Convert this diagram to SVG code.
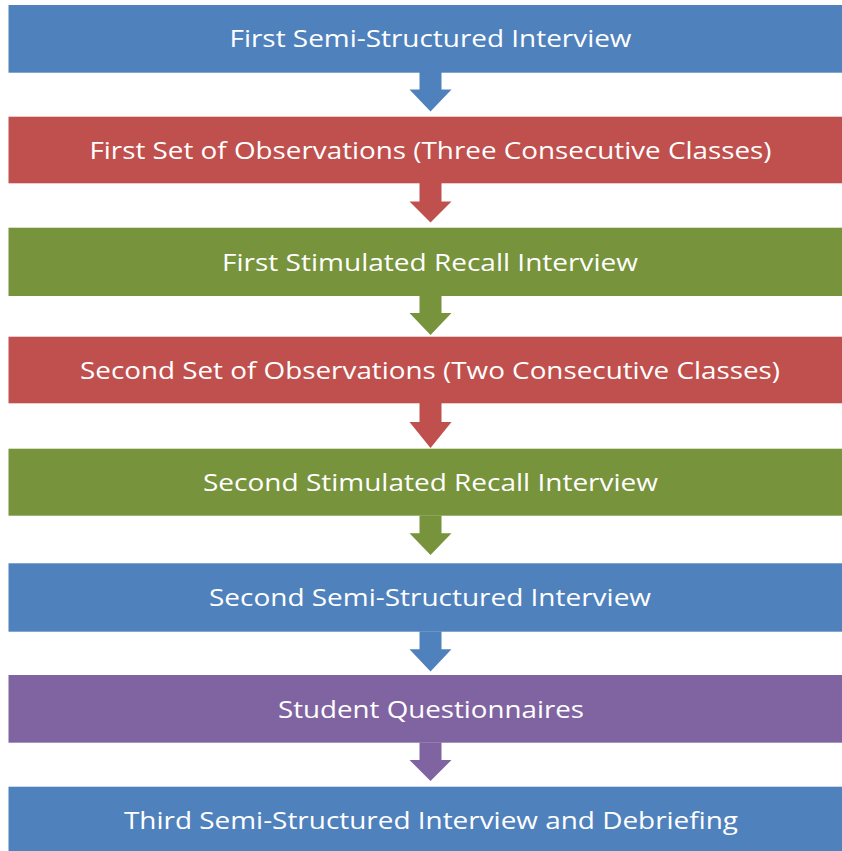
<svg xmlns="http://www.w3.org/2000/svg" width="842" height="851" viewBox="0 0 842 851">
<style>
.t{font-family:"Open Sans","Liberation Sans",sans-serif;font-size:24px;fill:#FFFFFF;text-anchor:middle}
.blue{fill:#4F81BD}.red{fill:#C0504D}.green{fill:#77933C}.purple{fill:#8064A2}
</style>
<rect width="842" height="851" fill="#FFFFFF"/>
<g id="connectors">
<path class="blue" d="M419.5,72 H441.5 V89.5 H451.5 L430.5,111.5 L409.5,89.5 H419.5 Z"/>
<path class="red" d="M419.5,183 H441.5 V201.5 H451.5 L430.5,222.5 L409.5,201.5 H419.5 Z"/>
<path class="green" d="M419.5,295.5 H441.5 V313 H451.5 L430.5,335 L409.5,313 H419.5 Z"/>
<path class="red" d="M419.5,403 H441.5 V422 H451.5 L430.5,448 L409.5,422 H419.5 Z"/>
<path class="green" d="M419.5,515.5 H441.5 V533.3 H451.5 L430.5,555 L409.5,533.3 H419.5 Z"/>
<path class="blue" d="M419.5,631.5 H441.5 V649.3 H451.5 L430.5,671.5 L409.5,649.3 H419.5 Z"/>
<path class="purple" d="M419.5,742.5 H441.5 V760 H451.5 L430.5,781 L409.5,760 H419.5 Z"/>
</g>
<g id="n1"><rect class="blue" x="8.5" y="5" width="844" height="67.7"/><text class="t" x="430.5" y="46.7" textLength="402" lengthAdjust="spacingAndGlyphs">First Semi-Structured Interview</text></g>
<g id="n2"><rect class="red" x="8.5" y="116.7" width="844" height="66.6"/><text class="t" x="430.5" y="158.5" textLength="682" lengthAdjust="spacingAndGlyphs">First Set of Observations (Three Consecutive Classes)</text></g>
<g id="n3"><rect class="green" x="8.5" y="227.7" width="844" height="68.3"/><text class="t" x="430" y="270.5" textLength="416" lengthAdjust="spacingAndGlyphs">First Stimulated Recall Interview</text></g>
<g id="n4"><rect class="red" x="8.5" y="336.7" width="844" height="66.6"/><text class="t" x="430" y="378.7" textLength="700" lengthAdjust="spacingAndGlyphs">Second Set of Observations (Two Consecutive Classes)</text></g>
<g id="n5"><rect class="green" x="8.5" y="448.7" width="844" height="67"/><text class="t" x="430.5" y="490.8" textLength="455" lengthAdjust="spacingAndGlyphs">Second Stimulated Recall Interview</text></g>
<g id="n6"><rect class="blue" x="8.5" y="563.3" width="844" height="68.4"/><text class="t" x="430" y="606.3" textLength="442" lengthAdjust="spacingAndGlyphs">Second Semi-Structured Interview</text></g>
<g id="n7"><rect class="purple" x="8.5" y="675" width="844" height="67.7"/><text class="t" x="431" y="717.5" textLength="306" lengthAdjust="spacingAndGlyphs">Student Questionnaires</text></g>
<g id="n8"><rect class="blue" x="8.5" y="786.7" width="844" height="70"/><text class="t" x="431" y="829" textLength="614" lengthAdjust="spacingAndGlyphs">Third Semi-Structured Interview and Debriefing</text></g>
</svg>
